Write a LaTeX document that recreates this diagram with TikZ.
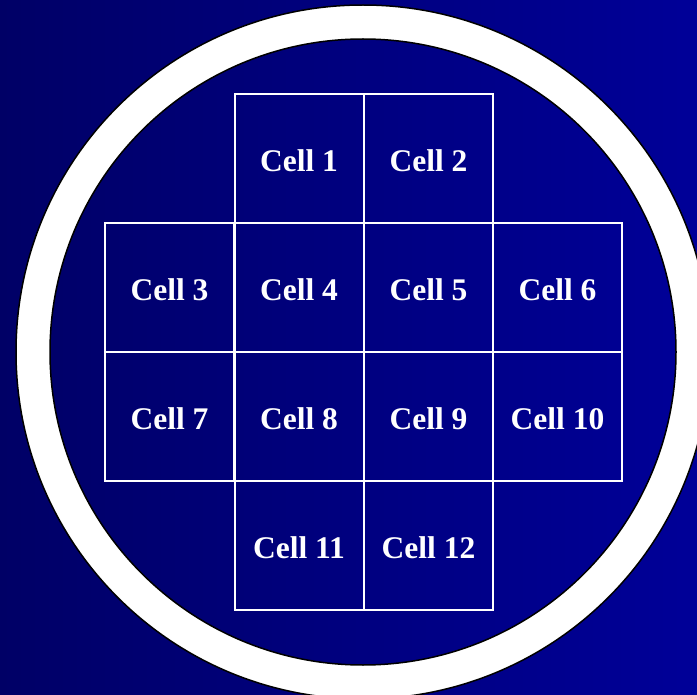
\documentclass[tikz,border=0pt]{standalone}
\usepackage{fontspec}
\setmainfont{Liberation Serif}
\definecolor{bgleft}{RGB}{0,0,102}
\definecolor{bgright}{RGB}{0,0,152}
\tikzset{
  cellbox/.style={draw=white, line width=2pt, minimum width=129pt, minimum height=129pt,
    inner sep=0pt, outer sep=0pt, text=white, text height=25.5pt, text depth=0pt,
    font=\fontsize{31.5}{35}\selectfont\bfseries},
  ringline/.style={draw=black, line width=1.5pt}
}
\begin{document}
\begin{tikzpicture}[x=1pt,y=-1pt]
\useasboundingbox (0,0) rectangle (697,695);
\clip (0,0) rectangle (697,695);
\shade[left color=bgleft, right color=bgright] (0,0) rectangle (697,695);
\coordinate (ctr) at (363,352);
\fill[white, even odd rule] (ctr) circle (347) (ctr) circle (313);
\draw[ringline] (ctr) circle (347);
\draw[ringline] (ctr) circle (313);
\node[cellbox] (c1) at (299,158.5) {Cell 1};
\node[cellbox] (c2) at (428.5,158.5) {Cell 2};
\node[cellbox] (c3) at (169.5,287.5) {Cell 3};
\node[cellbox] (c4) at (299,287.5) {Cell 4};
\node[cellbox] (c5) at (428.5,287.5) {Cell 5};
\node[cellbox] (c6) at (557.5,287.5) {Cell 6};
\node[cellbox] (c7) at (169.5,416.5) {Cell 7};
\node[cellbox] (c8) at (299,416.5) {Cell 8};
\node[cellbox] (c9) at (428.5,416.5) {Cell 9};
\node[cellbox] (c10) at (557.5,416.5) {Cell 10};
\node[cellbox] (c11) at (299,545.5) {Cell 11};
\node[cellbox] (c12) at (428.5,545.5) {Cell 12};
\end{tikzpicture}
\end{document}
